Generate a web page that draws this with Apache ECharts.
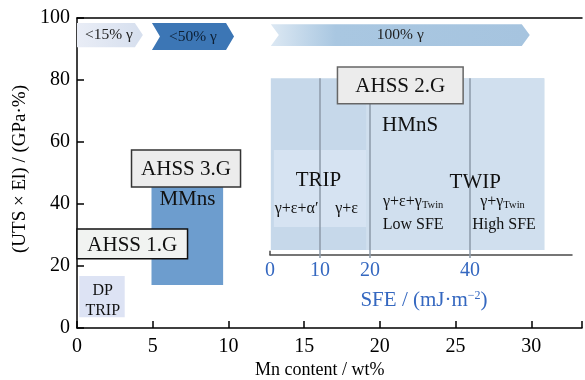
<!DOCTYPE html>
<html><head><meta charset="utf-8">
<script src="https://cdn.jsdelivr.net/npm/echarts@6/dist/echarts.min.js"></script>
<style>html,body{margin:0;padding:0;background:#fff}#c{width:585px;height:380px}</style>
</head><body><div id="c"></div>
<script>
// ---- data ----
const xTicks = [0, 5, 10, 15, 20, 25, 30];
const yTicks = [0, 20, 40, 60, 80, 100];
const sfeTicks = [0, 10, 20, 40];
const SFE_AXIS_Y = 23.5;           // UTS×El level at which the SFE scale sits

// shaded property regions (Mn wt%, UTS×El)
const regionNames = ['DP TRIP', 'MMns', 'HMnS', 'HMnS TWIP', 'TRIP'];
const regionX0 = [0.15, 4.92, 12.8, 19.1, 13.0];
const regionX1 = [3.15, 9.65, 30.86, 30.86, 19.1];
const regionY0 = [3.5, 13.9, 25.2, 25.2, 32.6];
const regionY1 = [16.8, 48.0, 80.6, 80.6, 57.4];

// steel generation boxes
const gradeNames = ['AHSS 1.G', 'AHSS 3.G', 'AHSS 2.G'];
const gradeX0 = [0.0, 3.6, 17.2];
const gradeX1 = [7.3, 10.8, 25.5];
const gradeY0 = [22.3, 45.5, 72.3];
const gradeY1 = [31.9, 57.4, 84.2];

// austenite-fraction arrows
const arrowNames = ['<15% γ', '<50% γ', '100% γ'];
const arrowX0 = [0.0, 4.95, 12.8];
const arrowX1 = [4.35, 10.37, 29.9];
const arrowY0 = [90.6, 89.7, 91.0];
const arrowY1 = [98.4, 98.4, 98.0];

// SFE divider lines (SFE units, UTS×El)
const sfeLineX = [0, 10, 20, 40];
const sfeLineTop = [24.9, 80.6, 72.3, 80.6];
const sfeLineBottom = [23.5, 22.6, 22.6, 22.6];

// text annotations
const noteTexts = ['HMnS', 'MMns', 'TRIP', 'TWIP', 'γ+ε+α′', 'γ+ε', '{t|γ+ε+γ}{s|Twin}', 'Low SFE', '{t|γ+γ}{s|Twin}', 'High SFE', 'DP\nTRIP'];
const noteX = [22.0, 7.29, 15.95, 26.3, 14.5, 17.8, 22.2, 22.2, 28.1, 28.2, 1.7];
const noteY = [65.2, 41.3, 47.7, 47.1, 38.4, 38.4, 40.6, 33.2, 40.6, 33.2, 8.7];
const noteBig = [true, true, true, true, false, false, false, false, false, false, false];

// ---- styles ----
const SERIF = '"Liberation Serif", "DejaVu Serif", serif';
const regionFill = ['#dde3f4', '#6d9dce', '#c6d8ea', '#d0dfee', '#d6e3f2'];
const gradeStroke = ['#111', '#333', '#666'];
const gradeFill = ['#f1f3f1', '#ececec', '#ececec'];

const chart = echarts.init(document.getElementById('c'), null, {renderer: 'canvas'});

function rectItem(x0, x1, y0, y1, api) {
  const a = api.coord([x0, y1]), b = api.coord([x1, y0]);
  return {x: a[0], y: a[1], width: b[0] - a[0], height: b[1] - a[1]};
}

const option = {
  animation: false,
  grid: [
    {left: 77, right: 0, top: 18, bottom: 52},
    {left: 270, width: 302, top: 18, bottom: 52}
  ],
  xAxis: [
    {
      gridIndex: 0, type: 'value', min: 0, max: 33.35, interval: 5,
      axisLine: {lineStyle: {color: '#000', width: 1.5}},
      axisTick: {inside: true, length: 7, lineStyle: {color: '#000', width: 1.5}},
      axisLabel: {color: '#000', fontSize: 20, fontFamily: SERIF, margin: 9,
        formatter: v => xTicks.includes(v) ? String(v) : ''},
      splitLine: {show: false}
    },
    {
      gridIndex: 0, type: 'value', position: 'top', min: 0, max: 33.35,
      axisLine: {lineStyle: {color: '#000', width: 1.5}},
      axisTick: {show: false}, axisLabel: {show: false}, splitLine: {show: false}
    },
    {
      gridIndex: 1, type: 'value', min: 0, max: 60.4, interval: 10,
      offset: -(SFE_AXIS_Y / 100) * 310,
      axisLine: {onZero: false, lineStyle: {color: '#4a4a4a', width: 1.5}},
      axisTick: {show: false},
      axisLabel: {color: '#3568c0', fontSize: 20, fontFamily: SERIF, margin: 6,
        showMaxLabel: false,
        formatter: v => sfeTicks.includes(v) ? String(v) : ''},
      splitLine: {show: false},
      name: '{a|SFE / (mJ·m}{s|−2}{a|)}',
      nameLocation: 'middle', nameGap: 35,
      nameTextStyle: {
        padding: [0, 0, 0, 6],
        rich: {
          a: {color: '#3568c0', fontSize: 21, fontFamily: SERIF},
          s: {color: '#3568c0', fontSize: 12, fontFamily: SERIF, verticalAlign: 'top', padding: [0, 0, 9, 0]}
        }
      }
    }
  ],
  yAxis: [
    {
      gridIndex: 0, type: 'value', min: 0, max: 100, interval: 20,
      axisLine: {show: true, lineStyle: {color: '#000', width: 1.5}},
      axisTick: {show: true, inside: true, length: 7, lineStyle: {color: '#000', width: 1.5}},
      axisLabel: {color: '#000', fontSize: 20, fontFamily: SERIF, margin: 7,
        formatter: v => yTicks.includes(v) ? String(v) : ''},
      splitLine: {show: false},
      name: '(UTS × El) / (GPa·%)', nameLocation: 'middle', nameGap: 44,
      nameTextStyle: {color: '#000', fontSize: 19, fontFamily: SERIF, padding: [0, 0, 0, 8]}
    },
    {gridIndex: 1, type: 'value', min: 0, max: 100, show: false}
  ],
  graphic: [
    {type: 'text', left: 255, top: 361,
     style: {text: 'Mn content / wt%', fontSize: 18, fontFamily: SERIF, fill: '#000'}}
  ],
  series: [
    {
      type: 'custom', xAxisIndex: 0, yAxisIndex: 0, z: 1, silent: true,
      data: regionNames.map((n, i) => [regionX0[i], regionX1[i], regionY0[i], regionY1[i]]),
      renderItem: (params, api) => {
        const i = params.dataIndex;
        return {type: 'rect', shape: rectItem(api.value(0), api.value(1), api.value(2), api.value(3), api),
          style: {fill: regionFill[i]}};
      }
    },
    {
      type: 'custom', xAxisIndex: 2, yAxisIndex: 1, z: 2, silent: true,
      data: sfeLineX.map((x, i) => [x, sfeLineBottom[i], sfeLineTop[i]]),
      renderItem: (params, api) => {
        const a = api.coord([api.value(0), api.value(1)]);
        const b = api.coord([api.value(0), api.value(2)]);
        return {type: 'line', shape: {x1: a[0], y1: a[1], x2: b[0], y2: b[1]},
          style: {stroke: params.dataIndex === 0 ? '#4a4a4a' : '#8d9aa8', lineWidth: 1.5}};
      }
    },
    {
      type: 'custom', xAxisIndex: 0, yAxisIndex: 0, z: 3, silent: true,
      data: arrowNames.map((n, i) => [arrowX0[i], arrowX1[i], arrowY0[i], arrowY1[i]]),
      renderItem: (params, api) => {
        const i = params.dataIndex;
        const tl = api.coord([api.value(0), api.value(3)]);
        const br = api.coord([api.value(1), api.value(2)]);
        const mid = (tl[1] + br[1]) / 2, d = 8;
        const pts = [[tl[0], tl[1]], [br[0] - d, tl[1]], [br[0], mid], [br[0] - d, br[1]], [tl[0], br[1]]];
        if (i > 0) pts.push([tl[0] + d, mid]);
        let fill;
        if (i === 0) fill = new echarts.graphic.LinearGradient(0, 0, 1, 0, [{offset: 0, color: '#e9edf6'}, {offset: 1, color: '#d6dfee'}]);
        else if (i === 1) fill = '#3c76b5';
        else fill = new echarts.graphic.LinearGradient(0, 0, 1, 0, [{offset: 0, color: '#dce8f3'}, {offset: 0.25, color: '#a9c7e1'}, {offset: 1, color: '#a6c4df'}]);
        return {type: 'group', children: [
          {type: 'polygon', shape: {points: pts}, style: {fill: fill}},
          {type: 'text', x: (tl[0] + br[0]) / 2 + (i === 0 ? -1 : 0), y: mid,
           style: {text: arrowNames[i], fill: i === 1 ? '#0d1f33' : '#222', fontSize: 15.5, fontFamily: SERIF,
                   align: 'center', verticalAlign: 'middle'}}
        ]};
      }
    },
    {
      type: 'custom', xAxisIndex: 0, yAxisIndex: 0, z: 4, silent: true,
      data: noteTexts.map((t, i) => [noteX[i], noteY[i]]),
      renderItem: (params, api) => {
        const i = params.dataIndex;
        const p = api.coord([api.value(0), api.value(1)]);
        const fs = noteBig[i] ? 21 : 16;
        return {type: 'text', x: p[0], y: p[1],
          style: {text: noteTexts[i], fill: '#111', fontSize: fs, fontFamily: SERIF,
            align: 'center', verticalAlign: 'middle', lineHeight: i === noteTexts.length - 1 ? 20 : fs + 2,
            rich: {t: {fontSize: 16, fontFamily: SERIF, fill: '#111'},
                   s: {fontSize: 10.5, fontFamily: SERIF, fill: '#111', padding: [7, 0, 0, 0]}}}};
      }
    },
    {
      type: 'custom', xAxisIndex: 0, yAxisIndex: 0, z: 5, silent: true,
      data: gradeNames.map((n, i) => [gradeX0[i], gradeX1[i], gradeY0[i], gradeY1[i]]),
      renderItem: (params, api) => {
        const i = params.dataIndex;
        const r = rectItem(api.value(0), api.value(1), api.value(2), api.value(3), api);
        return {type: 'group', children: [
          {type: 'rect', shape: r, style: {fill: gradeFill[i], stroke: gradeStroke[i], lineWidth: 1.5}},
          {type: 'text', x: r.x + r.width / 2, y: r.y + r.height / 2 + 1,
           style: {text: gradeNames[i], fill: '#111', fontSize: 21, fontFamily: SERIF, align: 'center', verticalAlign: 'middle'}}
        ]};
      }
    }
  ]
};
chart.setOption(option);
</script>
</body></html>
